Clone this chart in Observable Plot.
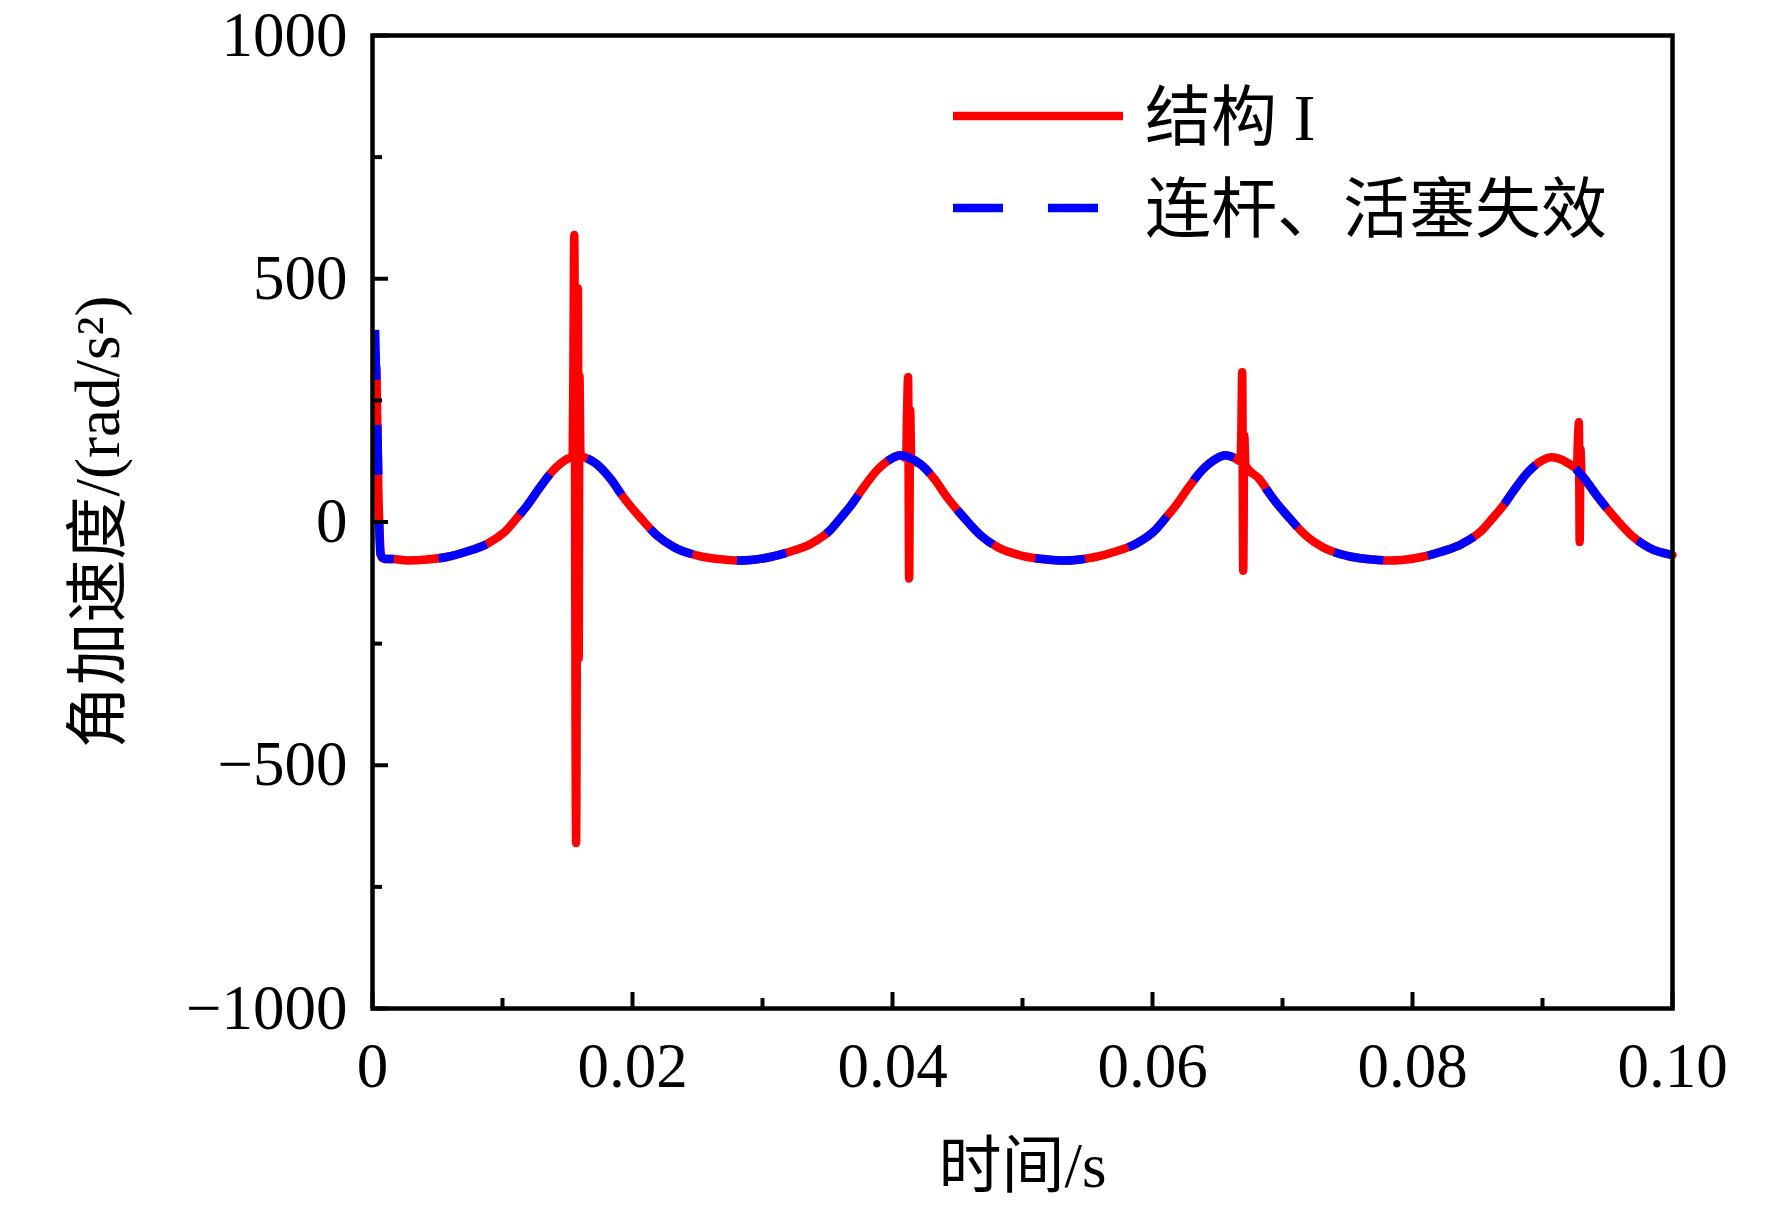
<!DOCTYPE html>
<html><head><meta charset="utf-8">
<script src="https://cdn.jsdelivr.net/npm/d3@7"></script>
<script src="https://cdn.jsdelivr.net/npm/@observablehq/plot@0.6"></script>
<style>
body{margin:0;background:#fff}
#wrap{position:relative;width:1772px;height:1208px;background:#fff}
#legend{position:absolute;left:0;top:0;pointer-events:none}
</style></head><body><div id="wrap"></div>
<script>
const FONT = "'Liberation Serif','Times New Roman','Noto Sans CJK SC',serif";
const seriesNames = ["结构 I", "连杆、活塞失效"];
const seriesColors = ["#ff0000", "#0000ff"];
const xLabel = "时间/s";
const yLabel = "角加速度/(rad/s²)";
const xMajorTicks = [0, 0.02, 0.04, 0.06, 0.08, 0.10];
const xMinorTicks = [0.01, 0.03, 0.05, 0.07, 0.09];
const yMajorTicks = [-1000, -500, 0, 500, 1000];
const yMinorTicks = [-750, -250, 250, 750];

// shared smooth response (both cases)
const smoothT = [0.0010,0.0016,0.0027,0.0042,0.0057,0.0072,0.0088,0.0103,0.0111,0.0119,0.0129,0.0139,0.0150,0.0157,0.0164,0.0172,0.0183,0.0193,0.0206,0.0219,0.0232,0.0250,0.0270,0.0282,
 0.0291,0.0306,0.0321,0.0337,0.0352,0.0360,0.0368,0.0378,0.0388,0.0399,0.0406,0.0413,0.0421,0.0432,0.0442,0.0455,0.0468,0.0481,0.0499,0.0519,0.0532,
 0.0541,0.0556,0.0571,0.0587,0.0602,0.0610,0.0618,0.0628,0.0638,0.0649,0.0656,0.0663,0.0671,0.0682,0.0692,0.0705,0.0718,0.0731,0.0749,0.0769,0.0782,
 0.0792,0.0807,0.0822,0.0838,0.0853,0.0861,0.0869,0.0879,0.0889,0.0900,0.0907,0.0914,0.0922,0.0933,0.0943,0.0956,0.0969,0.0982,0.1000];
const smoothV = [-76,-76,-79,-77,-72,-61,-45,-17,8,34,72,106,130,137,132,120,89,51,9,-28,-52,-69,-77,-79,
 -78,-72,-61,-45,-17,8,34,72,106,130,137,132,120,89,51,9,-28,-52,-69,-77,-79,
 -78,-72,-61,-45,-17,8,34,72,106,130,137,132,120,89,51,9,-28,-52,-69,-77,-79,
 -78,-72,-61,-45,-18,6,31,69,103,127,133,129,117,87,50,8,-29,-53,-68];

// start transients
const blueStartT = [0.0002, 0.0004, 0.0006];
const blueStartV = [395, 160, -66];
const redStartT = [0.0003, 0.00045, 0.0007];
const redStartV = [318, 60, -73];

// impact spikes of 结构 I
const spike1T = [0.01540,0.01546,0.01552,0.01566,0.01580,0.01586,0.01592,0.01600];
const spike1V = [135,350,590,-660,480,-280,300,136];
const spike2T = [0.04105,0.04112,0.04120,0.04128,0.04136,0.04144];
const spike2V = [132,225,298,-116,230,125];
const spike3T = [0.06675,0.06683,0.06690,0.06698,0.06706,0.06715];
const spike3V = [125,178,308,-100,178,116];
const spike4T = [0.09265,0.09272,0.09280,0.09286,0.09292,0.09300];
const spike4V = [110,165,205,-41,150,100];

const zip = (T, V) => T.map((t, i) => ({t, v: V[i]}));
const smooth = zip(smoothT, smoothV);
const spikes = [zip(spike1T, spike1V), zip(spike2T, spike2V), zip(spike3T, spike3V), zip(spike4T, spike4V)];
const inSpike = d => spikes.some(s => d.t >= s[0].t && d.t <= s[s.length - 1].t);
const redData = [...zip(redStartT, redStartV), ...smooth.filter(d => !inSpike(d)), ...spikes.flat()].sort((a, b) => a.t - b.t);
const blueData = [...zip(blueStartT, blueStartV), ...smooth];

const fmtX = d => d === 0 ? "0" : d.toFixed(2);
const fmtY = d => d < 0 ? "\u2212" + Math.abs(d) : String(d);

const chart = Plot.plot({
  width: 1772, height: 1208,
  marginLeft: 372, marginRight: 100, marginTop: 35, marginBottom: 200,
  style: {fontFamily: FONT, background: "#fff", color: "#000"},
  x: {domain: [0, 0.1]},
  y: {domain: [-1000, 1000]},
  marks: [
    Plot.line(redData, {x: "t", y: "v", stroke: seriesColors[0], strokeWidth: 8.5, curve: "monotone-x"}),
    Plot.line(blueData, {x: "t", y: "v", stroke: seriesColors[1], strokeWidth: 8.5, strokeDasharray: "50,45", strokeLinecap: "butt", curve: "monotone-x"}),
    Plot.axisX({ticks: xMajorTicks, tickSize: -16, strokeWidth: 4, text: null, label: null}),
    Plot.axisX({ticks: xMinorTicks, tickSize: -10, strokeWidth: 4, text: null, label: null}),
    Plot.axisX({ticks: xMajorTicks, tickSize: 0, tickPadding: 34, tickFormat: fmtX, fontSize: 63, fill: "#000",
      label: xLabel, labelAnchor: "center", labelOffset: 178, labelArrow: "none"}),
    Plot.axisY({ticks: yMajorTicks, tickSize: -16, strokeWidth: 4, text: null, label: null}),
    Plot.axisY({ticks: yMinorTicks, tickSize: -10, strokeWidth: 4, text: null, label: null}),
    Plot.axisY({ticks: yMajorTicks, tickSize: 0, tickPadding: 25, tickFormat: fmtY, fontSize: 63, fill: "#000",
      label: yLabel, labelAnchor: "center", labelOffset: 298, labelArrow: "none"}),
    Plot.frame({stroke: "#000", strokeWidth: 4.5})
  ]
});
const wrap = document.getElementById("wrap");
wrap.appendChild(chart);

// legend overlay
const ns = "http://www.w3.org/2000/svg";
const lg = document.createElementNS(ns, "svg");
lg.setAttribute("id", "legend");
lg.setAttribute("width", 1772);
lg.setAttribute("height", 1208);
const rows = [{y: 116, dash: null}, {y: 208, dash: "50,45"}];
rows.forEach((r, i) => {
  const ln = document.createElementNS(ns, "line");
  ln.setAttribute("x1", 953); ln.setAttribute("x2", 1123);
  ln.setAttribute("y1", r.y); ln.setAttribute("y2", r.y);
  ln.setAttribute("stroke", seriesColors[i]);
  ln.setAttribute("stroke-width", 8.5);
  if (r.dash) ln.setAttribute("stroke-dasharray", r.dash);
  lg.appendChild(ln);
  const tx = document.createElementNS(ns, "text");
  tx.setAttribute("x", 1145); tx.setAttribute("y", r.y);
  tx.setAttribute("dy", "0.36em");
  tx.setAttribute("font-size", 66);
  tx.setAttribute("font-family", FONT);
  tx.setAttribute("fill", "#000");
  tx.textContent = seriesNames[i];
  lg.appendChild(tx);
});
wrap.appendChild(lg);
</script></body></html>
